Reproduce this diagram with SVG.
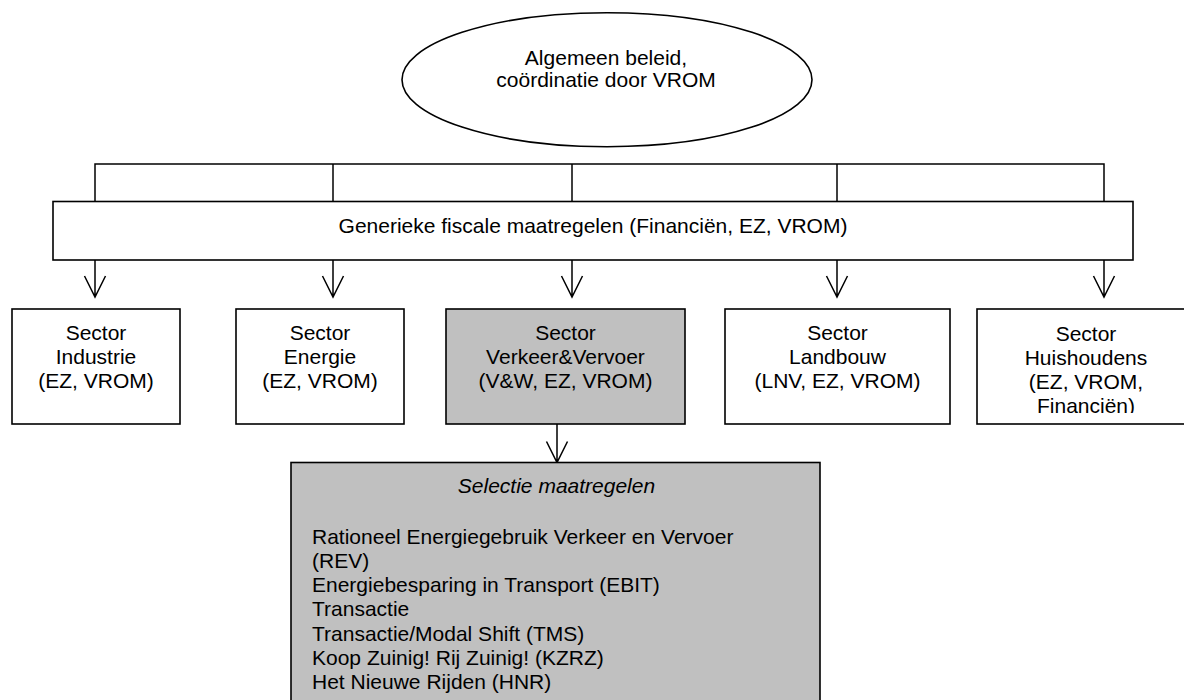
<svg xmlns="http://www.w3.org/2000/svg" width="1184" height="700" viewBox="0 0 1184 700">
<style>
.box{fill:#ffffff;stroke:#000000;stroke-width:1.6}
.grey{fill:#c0c0c0;stroke:#000000;stroke-width:1.6}
.ln{fill:none;stroke:#000000;stroke-width:1.5}
.t{font-family:"Liberation Sans",Arial,sans-serif;font-size:21px;fill:#000000}
.c{text-anchor:middle}
.i{font-style:italic}
</style>
<defs>
<marker id="arr" markerWidth="24" markerHeight="24" viewBox="-12 -22 24 24" refX="0" refY="0" orient="auto-start-reverse" markerUnits="userSpaceOnUse">
<path d="M-10.5,-21 L0,0 L10.5,-21" fill="none" stroke="#000" stroke-width="1.5" transform="rotate(-90)"/>
</marker>
<clipPath id="clipH"><rect x="977" y="309" width="230" height="104"/></clipPath>
</defs>
<rect width="1184" height="700" fill="#ffffff"/>
<g id="connectors">
<path class="ln" d="M95,201.5 V164 H1104 V201.5"/>
<path class="ln" d="M333,164 V201.5"/>
<path class="ln" d="M572,164 V201.5"/>
<path class="ln" d="M837,164 V201.5"/>
<path class="ln" d="M95,260 V297 M84.5,276 L95,297 L105.5,276"/>
<path class="ln" d="M333,260 V297 M322.5,276 L333,297 L343.5,276"/>
<path class="ln" d="M572,260 V297 M561.5,276 L572,297 L582.5,276"/>
<path class="ln" d="M837,260 V297 M826.5,276 L837,297 L847.5,276"/>
<path class="ln" d="M1104,260 V297 M1093.5,276 L1104,297 L1114.5,276"/>
<path class="ln" d="M557,424 V462.5 M546.5,441.5 L557,462.5 L567.5,441.5"/>
</g>
<g id="node-algemeen">
<ellipse class="box" cx="607" cy="79.7" rx="205" ry="67"/>
<text class="t c" x="606" y="65">Algemeen beleid,</text>
<text class="t c" x="606" y="87">coördinatie door VROM</text>
</g>
<g id="node-generiek">
<rect class="box" x="53" y="201.5" width="1080" height="58.5"/>
<text class="t c" x="593" y="233">Generieke fiscale maatregelen (Financiën, EZ, VROM)</text>
</g>
<g id="node-industrie">
<rect class="box" x="12" y="309" width="168" height="115"/>
<text class="t c" x="96" y="340">Sector</text>
<text class="t c" x="96" y="364">Industrie</text>
<text class="t c" x="96" y="388">(EZ, VROM)</text>
</g>
<g id="node-energie">
<rect class="box" x="236" y="309" width="168" height="115"/>
<text class="t c" x="320" y="340">Sector</text>
<text class="t c" x="320" y="364">Energie</text>
<text class="t c" x="320" y="388">(EZ, VROM)</text>
</g>
<g id="node-verkeer">
<rect class="grey" x="446" y="309" width="239" height="115"/>
<text class="t c" x="565.5" y="340">Sector</text>
<text class="t c" x="565.5" y="364">Verkeer&amp;Vervoer</text>
<text class="t c" x="565.5" y="388">(V&amp;W, EZ, VROM)</text>
</g>
<g id="node-landbouw">
<rect class="box" x="725" y="309" width="225" height="115"/>
<text class="t c" x="837.5" y="340">Sector</text>
<text class="t c" x="837.5" y="364">Landbouw</text>
<text class="t c" x="837.5" y="388">(LNV, EZ, VROM)</text>
</g>
<g id="node-huishoudens">
<rect class="box" x="977" y="309" width="218" height="115"/>
<g clip-path="url(#clipH)">
<text class="t c" x="1086" y="341">Sector</text>
<text class="t c" x="1086" y="364.5">Huishoudens</text>
<text class="t c" x="1086" y="388.5">(EZ, VROM,</text>
<text class="t c" x="1086" y="412.5">Financiën)</text>
</g>
</g>
<g id="node-selectie">
<rect class="grey" x="291" y="462.5" width="529" height="260"/>
<text class="t c i" x="556.5" y="493">Selectie maatregelen</text>
<text class="t" x="312" y="543.5">Rationeel Energiegebruik Verkeer en Vervoer</text>
<text class="t" x="312" y="567.8">(REV)</text>
<text class="t" x="312" y="592.1">Energiebesparing in Transport (EBIT)</text>
<text class="t" x="312" y="616.4">Transactie</text>
<text class="t" x="312" y="640.7">Transactie/Modal Shift (TMS)</text>
<text class="t" x="312" y="665">Koop Zuinig! Rij Zuinig! (KZRZ)</text>
<text class="t" x="312" y="689.3">Het Nieuwe Rijden (HNR)</text>
</g>
</svg>
